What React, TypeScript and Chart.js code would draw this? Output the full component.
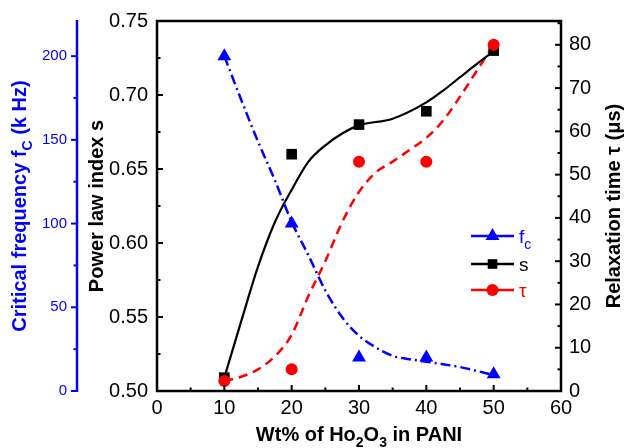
import React, { useEffect, useRef } from 'react';
import { Chart, registerables } from 'chart.js';

Chart.register(...registerables);

// ---------- data ----------
const wtPercent = [10, 20, 30, 40, 50];
const fcValues = [200, 100, 20, 20, 10];
const sValues = [0.509, 0.66, 0.68, 0.689, 0.73];
const tauValues = [2.3, 5, 53, 53, 80];

// smoothed guide curves
const fcCurveX = [10, 12.5, 15, 17.5, 20, 22.5, 25, 27.5, 30, 32.5, 35, 37.5, 40, 42.5, 45, 47.5, 50];
const fcCurveY = [200, 174, 149, 126, 101, 81, 60, 44, 33, 26, 21, 19, 17.5, 16, 14.3, 12, 9.5];
const sCurveX = [10, 12.5, 15, 17.5, 20, 22.5, 25, 27.5, 30, 35, 40, 42.5, 45, 47.5, 50];
const sCurveY = [0.509, 0.547, 0.584, 0.614, 0.636, 0.655, 0.666, 0.674, 0.6795, 0.684, 0.695, 0.703, 0.712, 0.721, 0.7297];
const tauCurveX = [10, 12.5, 15, 17.5, 20, 22.5, 25, 27.5, 30, 32.5, 35, 37.5, 40, 42.5, 45, 47.5, 50];
const tauCurveY = [2.3, 3.3, 5, 8, 13, 22, 30, 39, 46, 50.5, 53, 55.7, 58.5, 62.5, 68, 74, 80];

// tick labels
const xTicks = [0, 10, 20, 30, 40, 50, 60];
const fcTicks = [0, 50, 100, 150, 200];
const sTicks = [0.5, 0.55, 0.6, 0.65, 0.7, 0.75];
const tauTicks = [0, 10, 20, 30, 40, 50, 60, 70, 80];

const BLUE = '#0000FF';
const RED = '#FF0000';
const BLACK = '#000000';
const FONT = '"Liberation Sans", Arial, Helvetica, sans-serif';

type Part = { t: string; sub?: boolean };

function drawRich(ctx: CanvasRenderingContext2D, parts: Part[], size: number, bold: boolean, color: string, align: 'center' | 'left' = 'center') {
  const fontFor = (p: Part) => `${bold ? 'bold ' : ''}${p.sub ? Math.round(size * 0.72) : size}px ${FONT}`;
  let total = 0;
  const widths = parts.map((p) => {
    ctx.font = fontFor(p);
    const w = ctx.measureText(p.t).width;
    total += w;
    return w;
  });
  let x = align === 'center' ? -total / 2 : 0;
  ctx.fillStyle = color;
  ctx.textBaseline = 'alphabetic';
  ctx.textAlign = 'left';
  parts.forEach((p, i) => {
    ctx.font = fontFor(p);
    ctx.fillText(p.t, x, p.sub ? size * 0.3 : 0);
    x += widths[i];
  });
}

const decorPlugin = {
  id: 'decor',
  afterDraw(chart: any) {
    const ctx: CanvasRenderingContext2D = chart.ctx;
    const ca = chart.chartArea;
    const xs = chart.scales.x;
    const ys = chart.scales.yS;
    const yf = chart.scales.yF;
    const yt = chart.scales.yT;
    const line = (x1: number, y1: number, x2: number, y2: number) => {
      ctx.beginPath();
      ctx.moveTo(x1, y1);
      ctx.lineTo(x2, y2);
      ctx.stroke();
    };
    ctx.save();

    // frame
    ctx.strokeStyle = BLACK;
    ctx.lineWidth = 2.5;
    ctx.strokeRect(ca.left, ca.top, ca.right - ca.left, ca.bottom - ca.top);

    // inward ticks
    ctx.lineWidth = 2;
    xTicks.forEach((v, i) => {
      const p = xs.getPixelForValue(v);
      line(p, ca.bottom, p, ca.bottom - 6);
      if (i < xTicks.length - 1) {
        const m = xs.getPixelForValue((v + xTicks[i + 1]) / 2);
        line(m, ca.bottom, m, ca.bottom - 3.5);
      }
    });
    sTicks.forEach((v, i) => {
      const p = ys.getPixelForValue(v);
      line(ca.left, p, ca.left + 6, p);
      if (i < sTicks.length - 1) {
        const m = ys.getPixelForValue((v + sTicks[i + 1]) / 2);
        line(ca.left, m, ca.left + 3.5, m);
      }
    });
    tauTicks.forEach((v, i) => {
      const p = yt.getPixelForValue(v);
      line(ca.right, p, ca.right - 6, p);
      const next = i < tauTicks.length - 1 ? tauTicks[i + 1] : v + 10;
      const mv = (v + next) / 2;
      if (mv <= yt.max) {
        const m = yt.getPixelForValue(mv);
        line(ca.right, m, ca.right - 3.5, m);
      }
    });

    // blue outer axis
    const bx = yf.right;
    ctx.strokeStyle = BLUE;
    ctx.lineWidth = 2.5;
    line(bx, ca.top - 1, bx, ca.bottom + 1);
    ctx.lineWidth = 2;
    fcTicks.forEach((v, i) => {
      const p = yf.getPixelForValue(v);
      line(bx, p, bx - 6, p);
      const next = i < fcTicks.length - 1 ? fcTicks[i + 1] : v + 50;
      const mv = (v + next) / 2;
      if (mv <= yf.max) {
        const m = yf.getPixelForValue(mv);
        line(bx, m, bx - 3.5, m);
      }
    });

    // axis titles
    const midY = (ca.top + ca.bottom) / 2;
    ctx.save();
    ctx.translate((ca.left + ca.right) / 2, ca.bottom + 50);
    drawRich(ctx, [{ t: 'Wt% of Ho' }, { t: '2', sub: true }, { t: 'O' }, { t: '3', sub: true }, { t: ' in PANI' }], 20, true, BLACK);
    ctx.restore();

    ctx.save();
    ctx.translate(ys.left + 26, midY);
    ctx.rotate(-Math.PI / 2);
    drawRich(ctx, [{ t: 'Power law index s' }], 20, true, BLACK);
    ctx.restore();

    ctx.save();
    ctx.translate(yf.left + 26, midY);
    ctx.rotate(-Math.PI / 2);
    drawRich(ctx, [{ t: 'Critical frequency f' }, { t: 'C', sub: true }, { t: ' (k Hz)' }], 20, true, BLUE);
    ctx.restore();

    ctx.save();
    ctx.translate(yt.left + 59, midY);
    ctx.rotate(-Math.PI / 2);
    drawRich(ctx, [{ t: 'Relaxation time \u03C4 (\u03BCs)' }], 20, true, BLACK);
    ctx.restore();

    // legend
    const lx1 = ca.left + 314;
    const lx2 = ca.left + 357;
    const mx = (lx1 + lx2) / 2;
    const tx = ca.left + 362;
    const rows = [
      { y: 236, color: BLUE, marker: 'tri', parts: [{ t: 'f' }, { t: 'c', sub: true }] as Part[] },
      { y: 264, color: BLACK, marker: 'rect', parts: [{ t: 's' }] as Part[] },
      { y: 290, color: RED, marker: 'circle', parts: [{ t: '\u03C4' }] as Part[] },
    ];
    rows.forEach((r) => {
      ctx.strokeStyle = r.color;
      ctx.fillStyle = r.color;
      ctx.lineWidth = 2.5;
      line(lx1, r.y, lx2, r.y);
      ctx.beginPath();
      if (r.marker === 'tri') {
        const rad = 8;
        ctx.moveTo(mx, r.y - rad);
        ctx.lineTo(mx + rad * 0.866, r.y + rad * 0.5);
        ctx.lineTo(mx - rad * 0.866, r.y + rad * 0.5);
        ctx.closePath();
      } else if (r.marker === 'rect') {
        ctx.rect(mx - 4.8, r.y - 4.8, 9.6, 9.6);
      } else {
        ctx.arc(mx, r.y, 6, 0, Math.PI * 2);
      }
      ctx.fill();
      ctx.save();
      ctx.translate(tx, r.y + 7);
      drawRich(ctx, r.parts, 19, false, r.color, 'left');
      ctx.restore();
    });

    ctx.restore();
  },
};

function pts(xs: number[], ys: number[]) {
  return xs.map((x, i) => ({ x, y: ys[i] }));
}

export default function App() {
  const ref = useRef<HTMLCanvasElement | null>(null);

  useEffect(() => {
    document.body.style.margin = '0';
    const canvas = ref.current;
    if (!canvas) return;
    const tickFont = { family: FONT, size: 20 };
    const chart = new Chart(canvas, {
      type: 'scatter',
      data: {
        datasets: [
          {
            label: '\u03C4',
            data: pts(wtPercent, tauValues),
            yAxisID: 'yT',
            showLine: false,
            pointStyle: 'circle',
            pointRadius: 6,
            pointBackgroundColor: RED,
            pointBorderColor: RED,
            pointBorderWidth: 0,
          },
          {
            label: 's',
            data: pts(wtPercent, sValues),
            yAxisID: 'yS',
            showLine: false,
            pointStyle: 'rect',
            pointRadius: 7.5,
            pointBackgroundColor: BLACK,
            pointBorderColor: BLACK,
            pointBorderWidth: 0,
          },
          {
            label: 'fc',
            data: pts(wtPercent, fcValues),
            yAxisID: 'yF',
            showLine: false,
            pointStyle: 'triangle',
            pointRadius: 8,
            pointBackgroundColor: BLUE,
            pointBorderColor: BLUE,
            pointBorderWidth: 0,
          },
          {
            label: 'fc curve',
            data: pts(fcCurveX, fcCurveY),
            yAxisID: 'yF',
            showLine: true,
            borderColor: BLUE,
            borderWidth: 2.5,
            borderDash: [10, 4, 2, 4],
            pointRadius: 0,
            cubicInterpolationMode: 'monotone',
          },
          {
            label: 's curve',
            data: pts(sCurveX, sCurveY),
            yAxisID: 'yS',
            showLine: true,
            borderColor: BLACK,
            borderWidth: 2.2,
            pointRadius: 0,
            cubicInterpolationMode: 'monotone',
          },
          {
            label: 'tau curve',
            data: pts(tauCurveX, tauCurveY),
            yAxisID: 'yT',
            showLine: true,
            borderColor: RED,
            borderWidth: 2.5,
            borderDash: [9, 6],
            pointRadius: 0,
            cubicInterpolationMode: 'monotone',
          },
        ],
      } as any,
      options: {
        responsive: false,
        animation: false,
        devicePixelRatio: 1,
        layout: { padding: { top: 18, left: 0, right: 0, bottom: 0 } },
        plugins: { legend: { display: false }, tooltip: { enabled: false } },
        scales: {
          x: {
            type: 'linear',
            position: 'bottom',
            min: 0,
            max: 60,
            afterBuildTicks: (s: any) => {
              s.ticks = xTicks.map((v) => ({ value: v }));
            },
            afterFit: (s: any) => {
              s.height = 57;
            },
            grid: { display: false, drawTicks: false },
            border: { display: false },
            ticks: { font: tickFont, color: BLACK, padding: 5, maxRotation: 0, autoSkip: false },
          },
          yF: {
            type: 'linear',
            position: 'left',
            weight: 2,
            min: 0,
            max: 221,
            afterBuildTicks: (s: any) => {
              s.ticks = fcTicks.map((v) => ({ value: v }));
            },
            afterFit: (s: any) => {
              s.width = 77;
            },
            grid: { display: false, drawTicks: false },
            border: { display: false },
            ticks: { font: { family: FONT, size: 15 }, color: BLUE, padding: 10, autoSkip: false },
          },
          yS: {
            type: 'linear',
            position: 'left',
            weight: 1,
            min: 0.5,
            max: 0.75,
            afterBuildTicks: (s: any) => {
              s.ticks = sTicks.map((v) => ({ value: v }));
            },
            afterFit: (s: any) => {
              s.width = 80;
            },
            grid: { display: false, drawTicks: false },
            border: { display: false },
            ticks: {
              font: tickFont,
              color: BLACK,
              padding: 9,
              autoSkip: false,
              callback: (v: any) => Number(v).toFixed(2),
            },
          },
          yT: {
            type: 'linear',
            position: 'right',
            min: 0,
            max: 85.5,
            afterBuildTicks: (s: any) => {
              s.ticks = tauTicks.map((v) => ({ value: v }));
            },
            afterFit: (s: any) => {
              s.width = 63;
            },
            grid: { display: false, drawTicks: false },
            border: { display: false },
            ticks: { font: tickFont, color: BLACK, padding: 8, autoSkip: false },
          },
        },
      } as any,
      plugins: [decorPlugin],
    });
    return () => chart.destroy();
  }, []);

  return (
    <div style={{ position: 'fixed', left: 0, top: 0, width: 624, height: 448, background: '#fff' }}>
      <canvas ref={ref} width={624} height={448} style={{ display: 'block' }} />
    </div>
  );
}
